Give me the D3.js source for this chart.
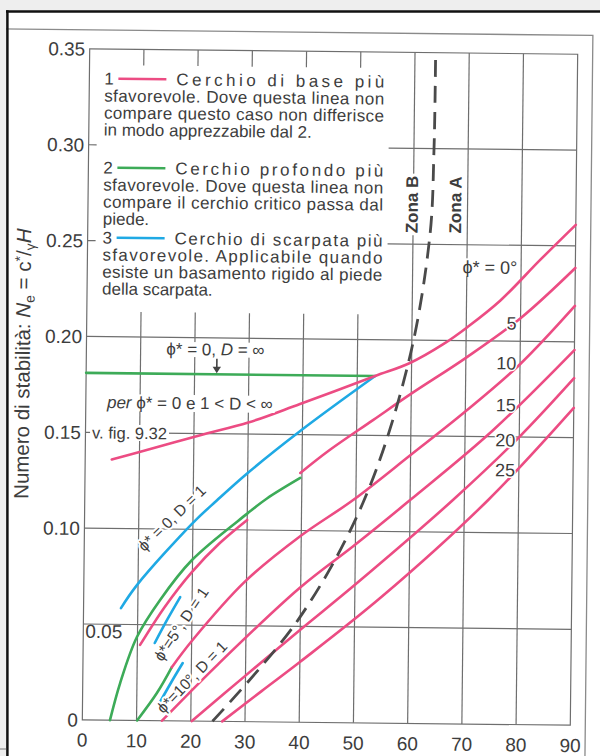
<!DOCTYPE html>
<html>
<head>
<meta charset="utf-8">
<script src="https://cdn.jsdelivr.net/npm/d3@7"></script>
<style>
  html, body { margin: 0; padding: 0; background: #eeeeee; }
  svg { display: block; }
</style>
</head>
<body>
<svg id="chart" width="600" height="756"></svg>
<script>
// ---- axis ticks ----
const slopeTicks = [0, 10, 20, 30, 40, 50, 60, 70, 80, 90];
const neTicks = [0, 0.05, 0.10, 0.15, 0.20, 0.25, 0.30, 0.35];
const neTickLabels = ["0", "0.05", "0.10", "0.15", "0.20", "0.25", "0.30", "0.35"];

// ---- curve 1: base circle (phi* = 0), including the 1 < D < inf branch ----
const phi0BaseBeta = [4.9, 10, 21, 30, 39.5, 53.3, 59.7, 65.8, 70.2, 76.2, 83.5, 90];
const phi0BaseNe   = [0.136, 0.140, 0.149, 0.156, 0.166, 0.181, 0.188, 0.198, 0.207, 0.221, 0.2425, 0.261];

// phi* = 0, D = infinity
const dInfBeta = [0, 53.3];
const dInfNe   = [0.181, 0.181];

// ---- curve 3: toe circle ----
const phi0ToeBeta = [6.9, 9.8, 20, 24.4, 30, 39.6, 53.3];
const phi0ToeNe   = [0.0585, 0.0706, 0.1034, 0.1153, 0.1297, 0.1519, 0.181];
const phi5ToeBeta = [13.2, 15.5, 17.8];
const phi5ToeNe   = [0.0405, 0.053, 0.0646];
const phi10ToeBeta = [14.3, 16.3, 18.4];
const phi10ToeNe   = [0.0098, 0.020, 0.0302];

// ---- curve 2: deep circle ----
const phi5DeepBeta = [5.1, 6.9, 9.9, 14.1, 19.9, 30, 33.6, 39.7];
const phi5DeepNe   = [0, 0.0194, 0.0435, 0.063, 0.084, 0.1085, 0.1165, 0.1274];
const phi10DeepBeta = [10.1, 13.7, 16.4];
const phi10DeepNe   = [0, 0.0144, 0.028];

// ---- curve 1 for phi* > 0 ----
const phi5LowBeta = [10.5, 15, 19.9, 25, 30];
const phi5LowNe   = [0.0394, 0.0595, 0.0777, 0.093, 0.1052];
const phi5Beta  = [39.7, 45, 53, 60, 70, 80, 90];
const phi5Ne    = [0.130, 0.142, 0.158, 0.172, 0.191, 0.212, 0.2385];
const phi10Beta = [16.4, 20.1, 29.7, 39.8, 49.5, 60, 70, 80, 90];
const phi10Ne   = [0.028, 0.042, 0.073, 0.097, 0.1162, 0.140, 0.163, 0.188, 0.2187];
const phi15Beta = [14.7, 25, 39.8, 50, 60, 75, 90];
const phi15Ne   = [0, 0.030, 0.070, 0.093, 0.1165, 0.153, 0.1957];
const phi20Beta = [20.2, 30, 39.9, 50, 67.9, 80, 90];
const phi20Ne   = [0, 0.024, 0.048, 0.072, 0.1168, 0.150, 0.181];
const phi25Beta = [25.8, 33, 40, 55, 74.4, 90];
const phi25Ne   = [0, 0.016, 0.0314, 0.066, 0.117, 0.1655];

// ---- boundary between Zona A and Zona B ----
const zoneBeta = [24, 39.5, 51.3, 59.4, 63.1, 63.7, 63.8];
const zoneNe   = [0, 0.053, 0.1147, 0.188, 0.254, 0.30, 0.35];

// curve labels at the right end
const phiLabels = ["\u03D5* = 0\u00B0", "5", "10", "15", "20", "25"];
const phiLabelNe = [0.2385, 0.2094, 0.1886, 0.1667, 0.1484, 0.1328];

// legend
const legendItems = [
  { key: "1", head: "Cerchio di base più",
    lines: ["sfavorevole. Dove questa linea non", "compare questo caso non differisce", "in modo apprezzabile dal 2."] },
  { key: "2", head: "Cerchio profondo più",
    lines: ["sfavorevole. Dove questa linea non", "compare il cerchio critico passa dal", "piede."] },
  { key: "3", head: "Cerchio di scarpata più",
    lines: ["sfavorevole. Applicabile quando", "esiste un basamento rigido al piede", "della scarpata."] }
];

// ---- styling ----
const FONT = '"Liberation Sans", Arial, Helvetica, sans-serif';
const INK = "#3d3d3d", GRID = "#6e6e6e";
const PINK = "#ec4c83", GREEN = "#3dab58", BLUE = "#1fa9e4", DASH = "#4a4a4a";
const legendColors = [PINK, GREEN, BLUE];

const W = 600, H = 756;
const svg = d3.select("#chart");

// page
svg.append("rect").attr("width", W).attr("height", H).attr("fill", "#eeeeee");
svg.append("rect").attr("x", 7).attr("y", 11).attr("width", W).attr("height", H).attr("fill", "#ffffff");

// the sheet is set slightly askew
const sheet = svg.append("g").attr("transform", "rotate(0.63,326,387)");

const x = d3.scaleLinear().domain([0, 90]).range([86, 574]);
const y = d3.scaleLinear().domain([0, 0.35]).range([722.5, 51.5]);

// figure frame
sheet.append("path").attr("d", "M-40,32.5H589V840")
  .attr("fill", "none").attr("stroke", "#8a8a8a").attr("stroke-width", 1.3);

// ---- grid ----
const grid = sheet.append("g").attr("stroke", GRID).attr("stroke-width", 1.2).attr("fill", "none");
const legendBottom = 314, legendRight = 386;
slopeTicks.filter(d => d > 0 && d < 90).forEach(d => {
  if (d <= 50) {
    grid.append("line").attr("x1", x(d)).attr("x2", x(d)).attr("y1", y(0)).attr("y2", legendBottom);
    grid.append("line").attr("x1", x(d)).attr("x2", x(d)).attr("y1", y(0.35)).attr("y2", y(0.35) + 16);
  } else {
    grid.append("line").attr("x1", x(d)).attr("x2", x(d)).attr("y1", y(0)).attr("y2", y(0.35));
  }
});
neTicks.filter(d => d > 0 && d < 0.35).forEach(d => {
  if (d <= 0.20) {
    grid.append("line").attr("x1", x(0)).attr("x2", x(90)).attr("y1", y(d)).attr("y2", y(d));
  } else {
    grid.append("line").attr("x1", x(0)).attr("x2", x(0) + 8).attr("y1", y(d)).attr("y2", y(d));
    grid.append("line").attr("x1", legendRight).attr("x2", x(90)).attr("y1", y(d)).attr("y2", y(d));
  }
});
grid.append("rect").attr("x", x(0)).attr("y", y(0.35))
  .attr("width", x(90) - x(0)).attr("height", y(0) - y(0.35));

// ---- tick labels ----
const tickFont = 19;
neTicks.forEach((d, i) => {
  const inside = neTickLabels[i] === "0.05";
  sheet.append("text")
    .attr("x", inside ? x(0) + 2 : 81.5)
    .attr("y", inside ? y(d) + 7 : y(d))
    .attr("dy", "0.36em")
    .attr("text-anchor", inside ? "start" : "end")
    .attr("font-family", FONT).attr("font-size", tickFont).attr("fill", INK)
    .text(neTickLabels[i]);
});
slopeTicks.forEach(d => {
  sheet.append("text").attr("x", x(d)).attr("y", 742.5).attr("dy", "0.36em")
    .attr("text-anchor", "middle")
    .attr("font-family", FONT).attr("font-size", tickFont).attr("fill", INK)
    .text(d);
});

// y-axis title
const yTitle = sheet.append("text")
  .attr("transform", "translate(29.5,367) rotate(-90)")
  .attr("text-anchor", "middle")
  .attr("font-family", FONT).attr("font-size", 20.5).attr("fill", INK);
yTitle.append("tspan").text("Numero di stabilità: ");
yTitle.append("tspan").attr("font-style", "italic").text("N");
yTitle.append("tspan").attr("font-size", 14).attr("dy", 4).text("e");
yTitle.append("tspan").attr("dy", -4).text(" = c");
yTitle.append("tspan").attr("font-size", 14).attr("dy", -6).text("*");
yTitle.append("tspan").attr("dy", 6).text("/");
yTitle.append("tspan").attr("font-size", 14).attr("dy", 4).text("\u03B3");
yTitle.append("tspan").attr("dy", -4).attr("font-style", "italic").text("H");

// ---- curves ----
const line = d3.line().x(d => x(d[0])).y(d => y(d[1])).curve(d3.curveCatmullRom.alpha(0.5));
const curves = sheet.append("g").attr("fill", "none").attr("stroke-width", 2.6)
  .attr("stroke-linecap", "round");
function drawCurve(beta, ne, color) {
  curves.append("path").datum(d3.zip(beta, ne)).attr("d", line).attr("stroke", color);
}
drawCurve(dInfBeta, dInfNe, GREEN);
drawCurve(phi0ToeBeta, phi0ToeNe, BLUE);
drawCurve(phi5ToeBeta, phi5ToeNe, BLUE);
drawCurve(phi10ToeBeta, phi10ToeNe, BLUE);
drawCurve(phi5DeepBeta, phi5DeepNe, GREEN);
drawCurve(phi10DeepBeta, phi10DeepNe, GREEN);
drawCurve(phi0BaseBeta, phi0BaseNe, PINK);
drawCurve(phi5LowBeta, phi5LowNe, PINK);
drawCurve(phi5Beta, phi5Ne, PINK);
drawCurve(phi10Beta, phi10Ne, PINK);
drawCurve(phi15Beta, phi15Ne, PINK);
drawCurve(phi20Beta, phi20Ne, PINK);
drawCurve(phi25Beta, phi25Ne, PINK);

// zone boundary
sheet.append("path").datum(d3.zip(zoneBeta, zoneNe)).attr("d", line)
  .attr("fill", "none").attr("stroke", DASH).attr("stroke-width", 2.8)
  .attr("stroke-dasharray", "17,9");

// ---- annotations ----
// opts.box: white box behind the text; otherwise a white halo round the glyphs
function note(px, py, opts) {
  const g = sheet.append("g");
  if (opts.rotate != null) g.attr("transform", `rotate(${opts.rotate},${px},${py})`);
  const box = g.append("rect").attr("fill", "#fff");
  const t = g.append("text")
    .attr("x", px).attr("y", py)
    .attr("font-family", FONT).attr("font-size", opts.size || 17)
    .attr("font-weight", opts.weight || "normal")
    .attr("text-anchor", opts.anchor || "start")
    .attr("fill", INK);
  if (opts.dy) t.attr("dy", opts.dy);
  if (!opts.box) {
    t.attr("stroke", "#fff").attr("stroke-width", opts.halo == null ? 5 : opts.halo)
      .attr("stroke-linejoin", "round").attr("paint-order", "stroke");
  }
  t.finish = () => {
    if (!opts.box) { box.remove(); return t; }
    const b = t.node().getBBox(), p = opts.pad || [1, 0];
    box.attr("x", b.x - p[0]).attr("y", b.y + 2 - p[1])
      .attr("width", b.width + 2 * p[0]).attr("height", b.height - 4 + 2 * p[1]);
    return t;
  };
  return t;
}

// zone labels
note(x(59.7), y(0.2707), { size: 17, weight: "bold", anchor: "middle", rotate: -90, dy: "0.36em", box: true, pad: [2, 0] })
  .text("Zona B").finish();
note(x(67.7), y(0.2707), { size: 17, weight: "bold", anchor: "middle", rotate: -90, dy: "0.36em", box: true, pad: [2, 0] })
  .text("Zona A").finish();

// phi* labels at the right
phiLabels.forEach((s, i) => {
  note(x(79.3), y(phiLabelNe[i]), { size: 18, anchor: "end", dy: "0.36em", halo: 3, box: i === 0, pad: [1, 1] })
    .text(s).finish();
});

// phi* = 0, D = inf with arrow
const dInf = note(x(23.8), 356.5, { size: 17, anchor: "middle", box: true });
dInf.append("tspan").text("\u03D5* = 0, ");
dInf.append("tspan").attr("font-style", "italic").text("D");
dInf.append("tspan").text(" = \u221E");
dInf.finish();
sheet.append("line").attr("x1", 216.6).attr("x2", 216.6).attr("y1", 360).attr("y2", 369)
  .attr("stroke", "#444").attr("stroke-width", 1.6);
sheet.append("path").attr("d", `M212.4,368L220.8,368L216.6,${y(0.181) - 1}Z`).attr("fill", "#444");

// per phi* = 0 e 1 < D < inf
const per = note(107.2, 410.5, { size: 17, box: true, pad: [2, 1] });
per.append("tspan").attr("font-style", "italic").text("per ");
per.append("tspan").text("\u03D5* = 0 e 1 < D < \u221E");
per.finish();

// v. fig. 9.32
note(92.6, 441, { size: 16.5, box: true, pad: [2, 1] }).text("v. fig. 9.32").finish();

// labels along the curves
note(x(16.1), y(0.1058), { size: 15.5, anchor: "middle", rotate: -44.6, dy: "0.36em", halo: 4 })
  .text("\u03D5* = 0, D = 1").finish();
note(x(18.0), y(0.0506), { size: 15.5, anchor: "middle", rotate: -56.6, dy: "0.36em", halo: 4 })
  .text("\u03D5*=5\u00B0, D = 1").finish();
note(x(20.1), y(0.023), { size: 15.5, anchor: "middle", rotate: -46.6, dy: "0.36em", halo: 4 })
  .text("\u03D5*=10\u00B0, D = 1").finish();

// ---- legend ----
const legendX = 101, legendR = 381, legendLead = 17;
const legendTops = [87, 176, 246];
legendItems.forEach((it, i) => {
  const b = legendTops[i];
  sheet.append("text").attr("x", legendX).attr("y", b)
    .attr("font-family", FONT).attr("font-size", 17).attr("fill", INK).text(it.key);
  sheet.append("line").attr("x1", legendX + 14).attr("x2", legendX + 62)
    .attr("y1", b - 6).attr("y2", b - 6)
    .attr("stroke", legendColors[i]).attr("stroke-width", 2.6);
  sheet.append("text").attr("x", legendX + 72).attr("y", b)
    .attr("font-family", FONT).attr("font-size", 17).attr("fill", INK)
    .attr("textLength", legendR - legendX - 72).attr("lengthAdjust", "spacing")
    .text(it.head);
  it.lines.forEach((s, j) => {
    const t = sheet.append("text").attr("x", legendX).attr("y", b + (j + 1) * legendLead)
      .attr("font-family", FONT).attr("font-size", 17).attr("fill", INK).text(s);
    if (j < it.lines.length - 1) t.attr("textLength", legendR - legendX).attr("lengthAdjust", "spacing");
  });
});

// ---- page edges ----
svg.append("rect").attr("x", 0).attr("y", 0).attr("width", W).attr("height", 10.3).attr("fill", "#eeeeee");
svg.append("rect").attr("x", 0).attr("y", 0).attr("width", 6.2).attr("height", H).attr("fill", "#eeeeee");
svg.append("line").attr("x1", 6).attr("x2", W).attr("y1", 11.5).attr("y2", 11.5)
  .attr("stroke", "#111").attr("stroke-width", 2.5);
svg.append("line").attr("x1", 7.4).attr("x2", 7.4).attr("y1", 10.3).attr("y2", H)
  .attr("stroke", "#111").attr("stroke-width", 2.5);
svg.append("line").attr("x1", 0).attr("x2", 6.2).attr("y1", 749).attr("y2", 749)
  .attr("stroke", "#777").attr("stroke-width", 1);
</script>
</body>
</html>
